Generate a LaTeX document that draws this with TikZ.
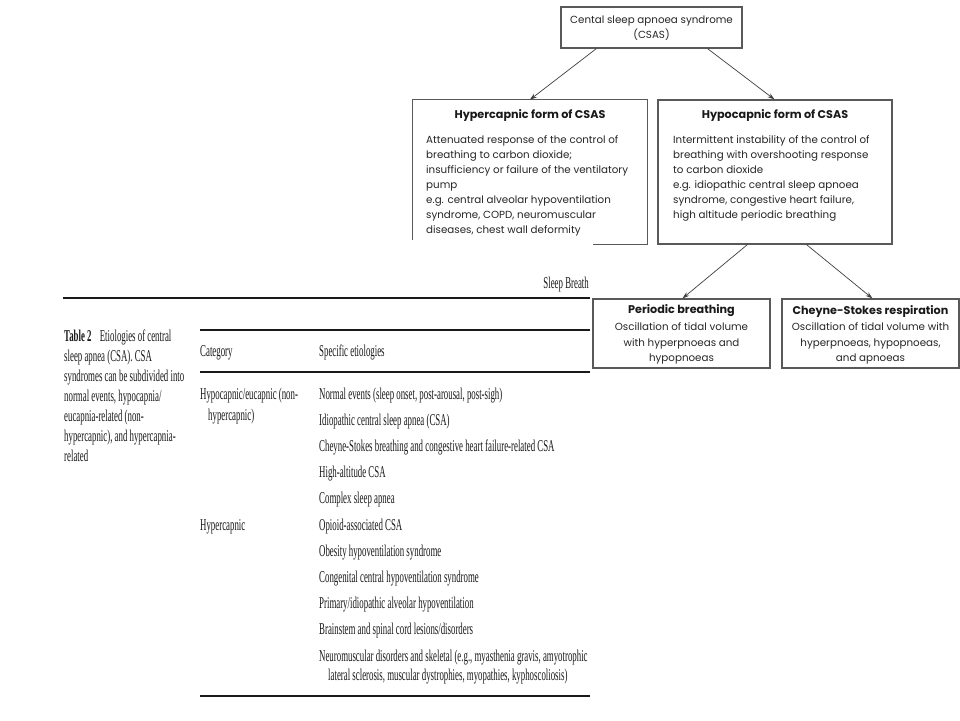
\documentclass[tikz,border=0pt]{standalone}
\usepackage{fontspec}
\setmainfont{Poppins}
\newfontfamily\tabfont[FakeStretch=0.535]{Liberation Serif}
\usetikzlibrary{arrows.meta}
\begin{document}
\begin{tikzpicture}[x=1pt,y=-1pt,
  boxline/.style={draw=black!65, line width=1.1pt},
  fbox/.style={boxline, inner sep=0pt, minimum width=#1},
  arr/.style={draw=black!75, line width=0.7pt, -{Stealth[length=7pt,width=4.5pt]}},
  ftxt/.style={font=\fontsize{10.3}{15}\selectfont, text=black!85, inner sep=0pt, align=left, anchor=north west},
  ctxt/.style={font=\fontsize{10.3}{15.5}\selectfont, text=black!85, inner sep=0pt, align=center},
  ttl/.style={font=\fontsize{11.2}{13}\selectfont\bfseries, text=black!90, inner sep=0pt},
  ttxt/.style={font=\tabfont\fontsize{16.5}{20}\selectfont, text=black!90, inner sep=0pt, anchor=base west},
  thick rule/.style={line width=2.4pt, black!90},
  thin rule/.style={line width=1.3pt, black!90}
]
\useasboundingbox[fill=white] (0,0) rectangle (960,720);

% ---------- flow chart ----------
\node[fbox=181pt, minimum height=41pt] (top) at (651.5,27.5) {};
\node[ctxt] (toptxt) at (651.5,28) {Cental sleep apnoea syndrome\\(CSAS)};

\node[inner sep=0pt, minimum width=234pt, minimum height=144pt] (hyper) at (530,172) {};
\draw[boxline] ([yshift=4pt]hyper.south west) -- (hyper.north west) -- (hyper.north east)
  -- (hyper.south east) -- ([xshift=180pt]hyper.south west);
\node[ttl] (hypertitle) at (530,116) {Hypercapnic form of CSAS};
\node[ftxt] (hyperbody) at (426,135) {Attenuated response of the control of\\
breathing to carbon dioxide;\\
insufficiency or failure of the ventilatory\\
pump\\
e.g. central alveolar hypoventilation\\
syndrome, COPD, neuromuscular\\
diseases, chest wall deformity};

\node[fbox=234pt, minimum height=144pt] (hypo) at (775,172) {};
\node[ttl] (hypotitle) at (775,116) {Hypocapnic form of CSAS};
\node[ftxt] (hypobody) at (673,135) {Intermittent instability of the control of\\
breathing with overshooting response\\
to carbon dioxide\\
e.g. idiopathic central sleep apnoea\\
syndrome, congestive heart failure,\\
high altitude periodic breathing};

\node[fbox=177pt, minimum height=69pt] (per) at (681.5,333.5) {};
\node[ttl] (pertitle) at (681.5,311) {Periodic breathing};
\node[ctxt] (perbody) at (681.5,343.5) {Oscillation of tidal volume\\with hyperpnoeas and\\hypopnoeas};

\node[fbox=177pt, minimum height=69pt] (che) at (870.5,333.5) {};
\node[ttl] (chetitle) at (870.5,311) {Cheyne-Stokes respiration};
\node[ctxt] (chebody) at (870.5,343.5) {Oscillation of tidal volume with\\hyperpnoeas, hypopnoeas,\\and apnoeas};

\draw[arr] ([xshift=36pt]top.south west) -- ([xshift=117pt]hyper.north west);
\draw[arr] ([xshift=147pt]top.south west) -- ([xshift=117pt]hypo.north west);
\draw[arr] ([xshift=90pt]hypo.south west) -- ([xshift=90pt]per.north west);
\draw[arr] ([xshift=149pt]hypo.south west) -- ([xshift=91pt]che.north west);

% ---------- table ----------
\node[ttxt, anchor=base east] (sb) at (589,288) {Sleep Breath};
\coordinate (r1a) at (63,298);  \coordinate (r1b) at (590,298);
\coordinate (r2a) at (200,330); \coordinate (r2b) at (590,330);
\coordinate (r3a) at (200,372); \coordinate (r3b) at (590,372);
\coordinate (r4a) at (200,696); \coordinate (r4b) at (590,696);
\draw[thick rule] (r1a) -- (r1b);
\draw[thin rule] (r2a) -- (r2b);
\draw[thick rule] (r3a) -- (r3b);
\draw[thick rule] (r4a) -- (r4b);

\node[ttxt] (c1) at (64,341) {\textbf{Table 2}\enspace Etiologies of central};
\node[ttxt] (c2) at (64,361) {sleep apnea (CSA). CSA};
\node[ttxt] (c3) at (64,381) {syndromes can be subdivided into};
\node[ttxt] (c4) at (64,401) {normal events, hypocapnia/};
\node[ttxt] (c5) at (64,421) {eucapnia-related (non-};
\node[ttxt] (c6) at (64,441) {hypercapnic), and hypercapnia-};
\node[ttxt] (c7) at (64,461) {related};

\node[ttxt] (hcat) at (200,356) {Category};
\node[ttxt] (hspec) at (319,356) {Specific etiologies};

\node[ttxt] (k1a) at (200,399) {Hypocapnic/eucapnic (non-};
\node[ttxt] (k1b) at (208,420) {hypercapnic)};
\node[ttxt] (k2) at (200,530) {Hypercapnic};

\node[ttxt] (e1) at (319,399) {Normal events (sleep onset, post-arousal, post-sigh)};
\node[ttxt] (e2) at (319,425.2) {Idiopathic central sleep apnea (CSA)};
\node[ttxt] (e3) at (319,451.4) {Cheyne-Stokes breathing and congestive heart failure-related CSA};
\node[ttxt] (e4) at (319,477.6) {High-altitude CSA};
\node[ttxt] (e5) at (319,503.8) {Complex sleep apnea};
\node[ttxt] (e6) at (319,530) {Opioid-associated CSA};
\node[ttxt] (e7) at (319,556.2) {Obesity hypoventilation syndrome};
\node[ttxt] (e8) at (319,582.4) {Congenital central hypoventilation syndrome};
\node[ttxt] (e9) at (319,608.6) {Primary/idiopathic alveolar hypoventilation};
\node[ttxt] (e10) at (319,634.8) {Brainstem and spinal cord lesions/disorders};
\node[ttxt] (e11) at (319,661) {Neuromuscular disorders and skeletal (e.g., myasthenia gravis, amyotrophic};
\node[ttxt] (e12) at (328,680) {lateral sclerosis, muscular dystrophies, myopathies, kyphoscoliosis)};
\end{tikzpicture}
\end{document}
